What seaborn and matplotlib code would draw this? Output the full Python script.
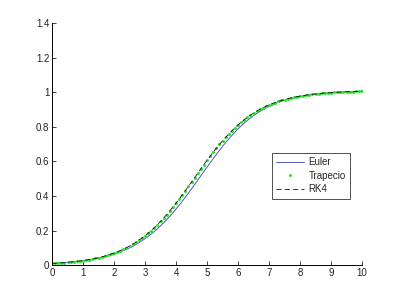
import numpy as np
import pandas as pd
import matplotlib
matplotlib.use("Agg")
import matplotlib.pyplot as plt
import seaborn as sns

# ---- data ----
t = np.linspace(0, 10, 101)

euler = [0.0101, 0.0111, 0.0122, 0.0134, 0.0147, 0.0162, 0.0178, 0.0195, 0.0214, 0.0235,
         0.0258, 0.0283, 0.0311, 0.0341, 0.0374, 0.0410, 0.0449, 0.0492, 0.0539, 0.0590,
         0.0646, 0.0706, 0.0772, 0.0843, 0.0920, 0.1004, 0.1095, 0.1192, 0.1297, 0.1410,
         0.1532, 0.1662, 0.1800, 0.1948, 0.2106, 0.2272, 0.2448, 0.2634, 0.2829, 0.3032,
         0.3244, 0.3465, 0.3692, 0.3926, 0.4166, 0.4411, 0.4660, 0.4911, 0.5163, 0.5415,
         0.5667, 0.5915, 0.6160, 0.6401, 0.6635, 0.6863, 0.7083, 0.7294, 0.7497, 0.7690,
         0.7874, 0.8047, 0.8211, 0.8364, 0.8508, 0.8642, 0.8767, 0.8883, 0.8990, 0.9089,
         0.9180, 0.9263, 0.9340, 0.9410, 0.9475, 0.9533, 0.9587, 0.9635, 0.9680, 0.9720,
         0.9757, 0.9790, 0.9820, 0.9847, 0.9872, 0.9894, 0.9914, 0.9932, 0.9949, 0.9964,
         0.9977, 0.9989, 1.0000, 1.0010, 1.0019, 1.0027, 1.0034, 1.0041, 1.0047, 1.0052,
         1.0057]

trapecio = [0.0101, 0.0112, 0.0123, 0.0136, 0.0150, 0.0165, 0.0183, 0.0201, 0.0222, 0.0245,
            0.0270, 0.0297, 0.0328, 0.0361, 0.0397, 0.0437, 0.0481, 0.0529, 0.0582, 0.0639,
            0.0701, 0.0770, 0.0844, 0.0924, 0.1012, 0.1107, 0.1209, 0.1320, 0.1439, 0.1567,
            0.1703, 0.1850, 0.2006, 0.2171, 0.2347, 0.2532, 0.2726, 0.2930, 0.3142, 0.3362,
            0.3590, 0.3825, 0.4065, 0.4310, 0.4559, 0.4810, 0.5062, 0.5315, 0.5566, 0.5814,
            0.6059, 0.6298, 0.6532, 0.6760, 0.6979, 0.7191, 0.7393, 0.7587, 0.7771, 0.7945,
            0.8110, 0.8265, 0.8410, 0.8546, 0.8673, 0.8791, 0.8901, 0.9003, 0.9097, 0.9184,
            0.9264, 0.9337, 0.9405, 0.9467, 0.9524, 0.9576, 0.9623, 0.9667, 0.9706, 0.9742,
            0.9775, 0.9805, 0.9833, 0.9858, 0.9880, 0.9901, 0.9919, 0.9936, 0.9952, 0.9965,
            0.9978, 0.9990, 1.0000, 1.0009, 1.0018, 1.0026, 1.0033, 1.0039, 1.0045, 1.0050,
            1.0055]

rk4 = [0.0101, 0.0112, 0.0123, 0.0136, 0.0150, 0.0165, 0.0183, 0.0201, 0.0222, 0.0245,
       0.0270, 0.0297, 0.0328, 0.0361, 0.0397, 0.0437, 0.0481, 0.0529, 0.0582, 0.0639,
       0.0701, 0.0770, 0.0844, 0.0924, 0.1012, 0.1107, 0.1209, 0.1320, 0.1439, 0.1567,
       0.1703, 0.1850, 0.2006, 0.2171, 0.2347, 0.2532, 0.2726, 0.2930, 0.3142, 0.3362,
       0.3590, 0.3825, 0.4065, 0.4310, 0.4559, 0.4810, 0.5062, 0.5315, 0.5566, 0.5814,
       0.6059, 0.6298, 0.6532, 0.6760, 0.6979, 0.7191, 0.7393, 0.7587, 0.7771, 0.7945,
       0.8110, 0.8265, 0.8410, 0.8546, 0.8673, 0.8791, 0.8901, 0.9003, 0.9097, 0.9184,
       0.9264, 0.9337, 0.9405, 0.9467, 0.9524, 0.9576, 0.9623, 0.9667, 0.9706, 0.9742,
       0.9775, 0.9805, 0.9833, 0.9858, 0.9880, 0.9901, 0.9919, 0.9936, 0.9952, 0.9965,
       0.9978, 0.9990, 1.0000, 1.0009, 1.0018, 1.0026, 1.0033, 1.0039, 1.0045, 1.0050,
       1.0055]

series_names = ["Euler", "Trapecio", "RK4"]
x_ticks = [0, 1, 2, 3, 4, 5, 6, 7, 8, 9, 10]
y_ticks = [0, 0.2, 0.4, 0.6, 0.8, 1.0, 1.2, 1.4]
y_tick_labels = ["0", "0.2", "0.4", "0.6", "0.8", "1", "1.2", "1.4"]

# ---- style ----
sns.set_style("white")
plt.rcParams["font.family"] = ["Liberation Sans", "DejaVu Sans"]

fig = plt.figure(figsize=(4.0, 2.99), dpi=100)
ax = fig.add_axes([0.13, 0.113, 0.775, 0.81])

df = pd.DataFrame({"t": t, "Euler": euler, "Trapecio": trapecio, "RK4": rk4})

sns.lineplot(data=df, x="t", y="Euler", ax=ax, color="#3a3ac0", linewidth=0.6,
             label=series_names[0])
sns.lineplot(data=df, x="t", y="Trapecio", ax=ax, color="#2ee02e", linestyle="",
             marker="o", markersize=2.2, markeredgewidth=0, label=series_names[1])
sns.lineplot(data=df, x="t", y="RK4", ax=ax, color="#111111", linewidth=0.6,
             linestyle=(0, (6, 4)), label=series_names[2])

ax.set_xlim(0, 10)
ax.set_ylim(0, 1.4)
ax.set_xticks(x_ticks)
ax.set_xticklabels([str(v) for v in x_ticks])
ax.set_yticks(y_ticks)
ax.set_yticklabels(y_tick_labels)
ax.set_xlabel("")
ax.set_ylabel("")

for s in ["top", "right"]:
    ax.spines[s].set_visible(False)
for s in ["left", "bottom"]:
    ax.spines[s].set_color("black")
    ax.spines[s].set_linewidth(0.7)

ax.tick_params(axis="both", direction="in", length=3, width=0.6, labelsize=7,
               colors="#222222", pad=2, left=True, bottom=True)

leg = ax.legend(loc="upper left", bbox_to_anchor=(0.68, 0.488),
                bbox_transform=fig.transFigure, borderaxespad=0,
                fancybox=False, frameon=True, fontsize=7, handlelength=2.8,
                handletextpad=0.5, borderpad=0.45, labelspacing=0.35,
                markerscale=1.0)
leg.get_frame().set_edgecolor("black")
leg.get_frame().set_linewidth(0.6)

fig.savefig("out.png", dpi=100, facecolor="white")
